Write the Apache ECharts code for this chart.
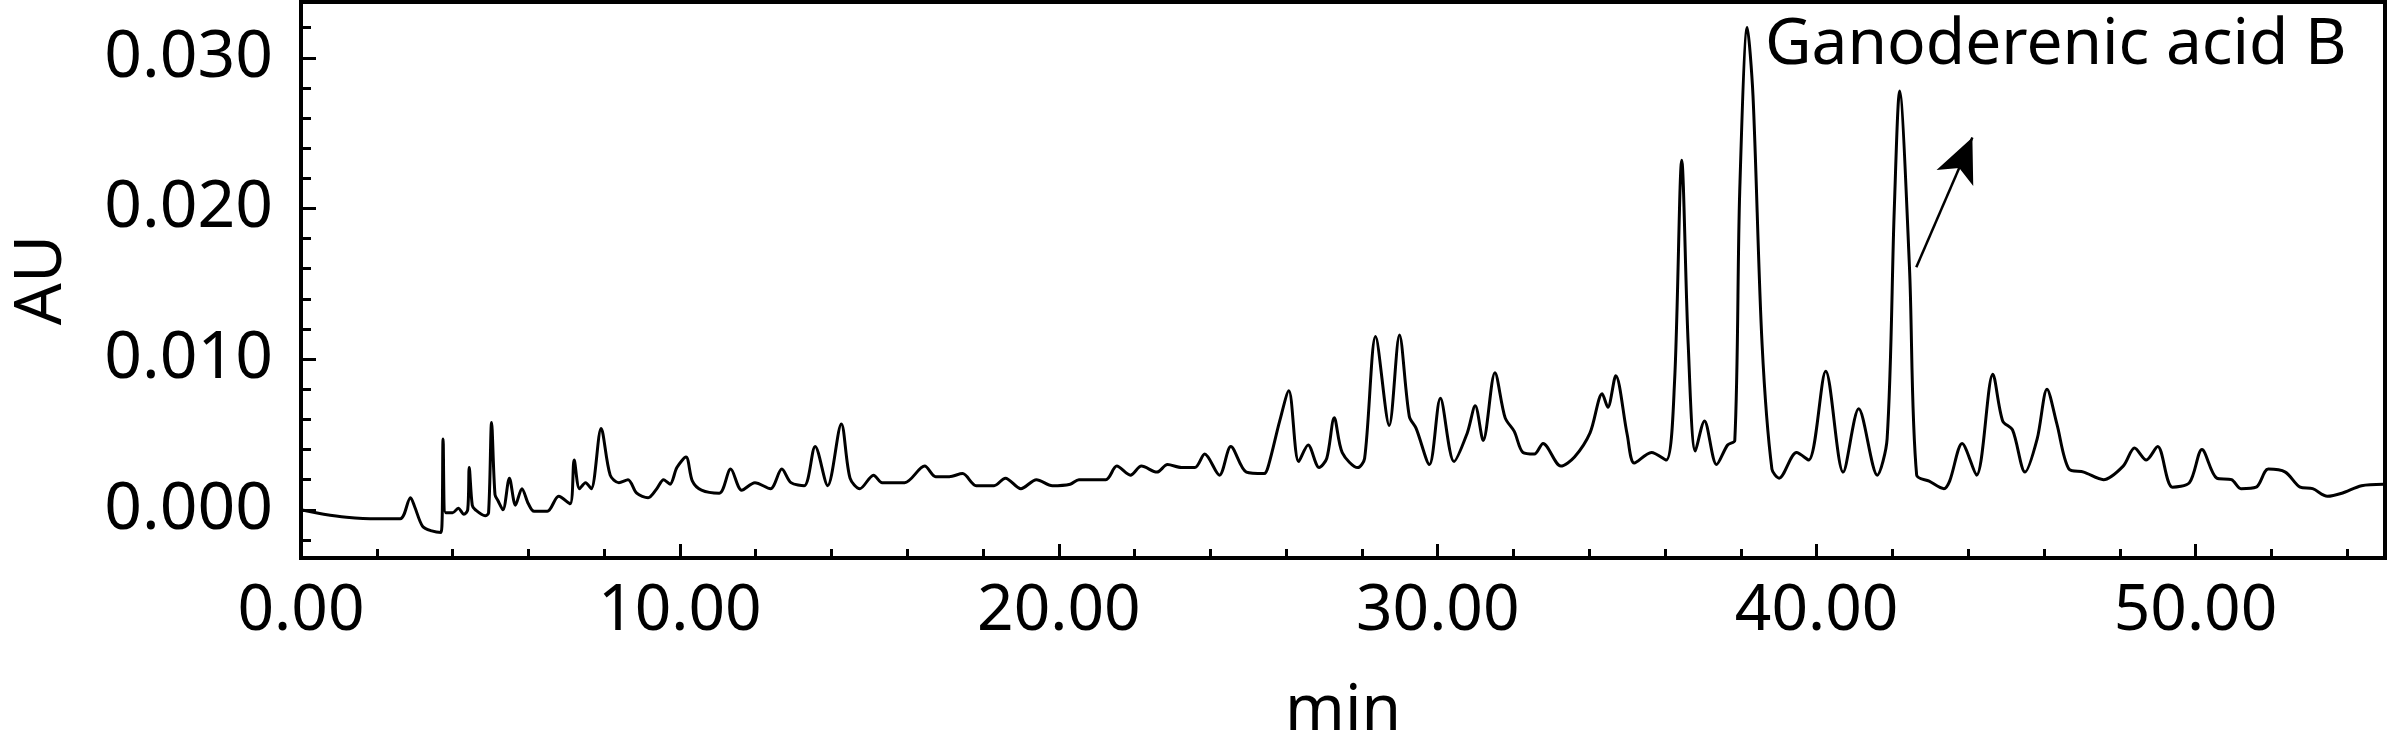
<!DOCTYPE html>
<html>
<head>
<meta charset="utf-8">
<script src="https://cdn.jsdelivr.net/npm/echarts@6/dist/echarts.min.js"></script>
<style>
  html, body { margin: 0; background: #fff; }
  #main { width: 2390px; height: 753px; }
</style>
</head>
<body>
<div id="main"></div>
<script>
// retention time (min) and detector response (AU)
var times = [
  0, 0.6, 1.2, 2.0, 2.62, 2.89, 3.0, 3.21, 3.45, 3.70, 3.75, 3.82, 4.0, 4.15, 4.30, 4.40, 4.44, 4.52, 4.60, 4.86,
  4.95, 5.03, 5.12, 5.20, 5.33, 5.50, 5.66, 5.83, 6.0, 6.15, 6.5, 6.8, 7.1, 7.21, 7.35, 7.51, 7.66, 7.92, 8.16, 8.39,
  8.63, 8.86, 9.16, 9.39, 9.57, 9.74, 9.92, 10.16, 10.33, 10.57, 11.04, 11.34, 11.63, 11.98, 12.39, 12.69, 12.93, 13.28, 13.57, 13.90,
  14.26, 14.49, 14.75, 15.11, 15.34, 15.93, 16.46, 16.75, 17.11, 17.46, 17.82, 18.29, 18.59, 19.0, 19.41, 19.83, 20.30, 20.53, 21.24, 21.53,
  21.89, 22.18, 22.59, 22.87, 23.24, 23.59, 23.85, 24.24, 24.54, 24.95, 25.42, 25.54, 25.83, 26.07, 26.33, 26.58, 26.87, 27.07, 27.27, 27.48,
  27.89, 28.07, 28.36, 28.72, 28.99, 29.25, 29.43, 29.78, 30.07, 30.43, 30.78, 30.99, 31.20, 31.51, 31.78, 32.02, 32.25, 32.55, 32.78, 33.25,
  33.61, 34.02, 34.34, 34.49, 34.70, 35.0, 35.19, 35.64, 36.03, 36.25, 36.44, 36.61, 36.80, 37.04, 37.36, 37.65, 37.84, 37.97, 38.17, 38.32,
  38.56, 38.82, 39.01, 39.47, 39.79, 40.24, 40.70, 41.11, 41.60, 41.86, 42.05, 42.19, 42.45, 42.64, 42.97, 43.36, 43.51, 43.84, 44.22, 44.65,
  44.91, 45.17, 45.50, 45.82, 46.08, 46.34, 46.66, 47.05, 47.57, 48.09, 48.39, 48.70, 49.0, 49.39, 49.84, 50.17, 50.56, 50.95, 51.20, 51.60,
  51.92, 52.37, 52.76, 53.09, 53.48, 53.86, 54.38, 54.96
]
var absorbance = [
  0.0000, -0.0003, -0.0005, -0.0006, -0.0006, 0.0008, 0.0002, -0.0011, -0.0014, -0.0015, 0.0047, -0.0002, -0.0002, 0.0001, -0.0003, 0.0000, 0.0028, 0.0003, 0.0000, -0.0004,
  -0.0002, 0.0058, 0.0010, 0.0006, 0.0000, 0.0021, 0.0003, 0.0014, 0.0004, -0.0001, -0.0001, 0.0009, 0.0004, 0.0033, 0.0014, 0.0018, 0.0014, 0.0054, 0.0023, 0.0018,
  0.0020, 0.0011, 0.0008, 0.0014, 0.0020, 0.0017, 0.0028, 0.0035, 0.0019, 0.0013, 0.0011, 0.0027, 0.0013, 0.0018, 0.0014, 0.0027, 0.0018, 0.0016, 0.0042, 0.0016,
  0.0057, 0.0021, 0.0014, 0.0023, 0.0018, 0.0018, 0.0029, 0.0022, 0.0022, 0.0024, 0.0016, 0.0016, 0.0021, 0.0014, 0.0020, 0.0016, 0.0017, 0.0020, 0.0020, 0.0029,
  0.0023, 0.0029, 0.0025, 0.0030, 0.0028, 0.0028, 0.0037, 0.0023, 0.0042, 0.0025, 0.0024, 0.0030, 0.0059, 0.0079, 0.0032, 0.0043, 0.0028, 0.0034, 0.0061, 0.0038,
  0.0028, 0.0034, 0.0115, 0.0056, 0.0116, 0.0062, 0.0054, 0.0030, 0.0074, 0.0032, 0.0051, 0.0069, 0.0046, 0.0091, 0.0061, 0.0052, 0.0038, 0.0037, 0.0044, 0.0029,
  0.0035, 0.0051, 0.0077, 0.0068, 0.0089, 0.0050, 0.0031, 0.0038, 0.0033, 0.0085, 0.0232, 0.0110, 0.0039, 0.0059, 0.0030, 0.0043, 0.0046, 0.0211, 0.0320, 0.0275,
  0.0110, 0.0027, 0.0021, 0.0038, 0.0033, 0.0092, 0.0025, 0.0067, 0.0023, 0.0047, 0.0200, 0.0278, 0.0161, 0.0023, 0.0019, 0.0014, 0.0019, 0.0044, 0.0023, 0.0090,
  0.0059, 0.0053, 0.0025, 0.0047, 0.0080, 0.0057, 0.0027, 0.0025, 0.0020, 0.0029, 0.0041, 0.0033, 0.0042, 0.0015, 0.0018, 0.0040, 0.0021, 0.0020, 0.0014, 0.0015,
  0.0027, 0.0025, 0.0015, 0.0014, 0.0009, 0.0011, 0.0016, 0.0017
]

// tick positions
var xMajorTicks = [0, 10, 20, 30, 40, 50]
var xMinorTicks = [0, 2, 4, 6, 8, 10, 12, 14, 16, 18, 20, 22, 24, 26, 28, 30, 32, 34, 36, 38, 40, 42, 44, 46, 48, 50, 52, 54]
var yMajorTicks = [0, 0.01, 0.02, 0.03]
var yMinorTicks = [-0.002, 0, 0.002, 0.004, 0.006, 0.008, 0.01, 0.012, 0.014, 0.016, 0.018, 0.02, 0.022, 0.024, 0.026, 0.028, 0.03, 0.032]

// annotation
var peakName = 'Ganoderenic acid B'
var arrowFrom = [42.63, 0.0161]
var arrowTo = [44.11, 0.0247]

var FONT = 'Noto Sans'
var xMin = 0, xMax = 55, yMin = -0.0032, yMax = 0.0337

var chart = echarts.init(document.getElementById('main'))

var points = times.map(function (t, i) { return [t, absorbance[i]] })

var option = {
  animation: false,
  grid: {
    left: 301, right: 5, top: 2, bottom: 195,
    show: true, borderColor: '#000', borderWidth: 4
  },
  xAxis: [
    {
      type: 'value', min: xMin, max: xMax, position: 'bottom',
      name: 'min', nameLocation: 'middle', nameGap: 122,
      nameTextStyle: { fontFamily: FONT, fontSize: 64, color: '#000', lineHeight: 64 },
      axisLine: { show: true, onZero: false, lineStyle: { color: '#000', width: 4 } },
      axisTick: { show: true, inside: true, length: 14, customValues: xMajorTicks, lineStyle: { color: '#000', width: 3 } },
      axisLabel: {
        customValues: xMajorTicks, margin: 22, color: '#000', fontFamily: FONT, fontSize: 64, lineHeight: 64,
        formatter: function (v) { return v.toFixed(2) }
      },
      splitLine: { show: false }
    },
    {
      type: 'value', min: xMin, max: xMax, position: 'bottom',
      axisLine: { show: false, onZero: false },
      axisTick: { show: true, inside: true, length: 9, customValues: xMinorTicks, lineStyle: { color: '#000', width: 3 } },
      axisLabel: { show: false },
      splitLine: { show: false }
    }
  ],
  yAxis: [
    {
      type: 'value', min: yMin, max: yMax, position: 'left',
      name: 'AU', nameLocation: 'middle', nameGap: 226,
      nameTextStyle: { fontFamily: FONT, fontSize: 66, color: '#000', lineHeight: 66 },
      axisLine: { show: true, onZero: false, lineStyle: { color: '#000', width: 4 } },
      axisTick: { show: true, inside: true, length: 15, customValues: yMajorTicks, lineStyle: { color: '#000', width: 3 } },
      axisLabel: {
        customValues: yMajorTicks, margin: 28, color: '#000', fontFamily: FONT, fontSize: 66,
        formatter: function (v) { return v.toFixed(3) }
      },
      splitLine: { show: false }
    },
    {
      type: 'value', min: yMin, max: yMax, position: 'left',
      axisLine: { show: false, onZero: false },
      axisTick: { show: true, inside: true, length: 10, customValues: yMinorTicks, lineStyle: { color: '#000', width: 3 } },
      axisLabel: { show: false },
      splitLine: { show: false }
    }
  ],
  series: [
    {
      type: 'line',
      xAxisIndex: 0, yAxisIndex: 0,
      data: points,
      showSymbol: false,
      smooth: 0.3,
      lineStyle: { color: '#000', width: 3 },
      markLine: {
        silent: true,
        symbol: ['none', 'arrow'],
        symbolSize: [30, 44],
        label: { show: false },
        lineStyle: { color: '#000', width: 2.5, type: 'solid' },
        data: [[{ coord: arrowFrom }, { coord: arrowTo }]]
      }
    }
  ],
  graphic: [
    {
      type: 'text', left: 1765, top: 14,
      style: { text: peakName, font: '64px "Noto Sans"', fill: '#000' }
    }
  ]
}

chart.setOption(option)
</script>
</body>
</html>
